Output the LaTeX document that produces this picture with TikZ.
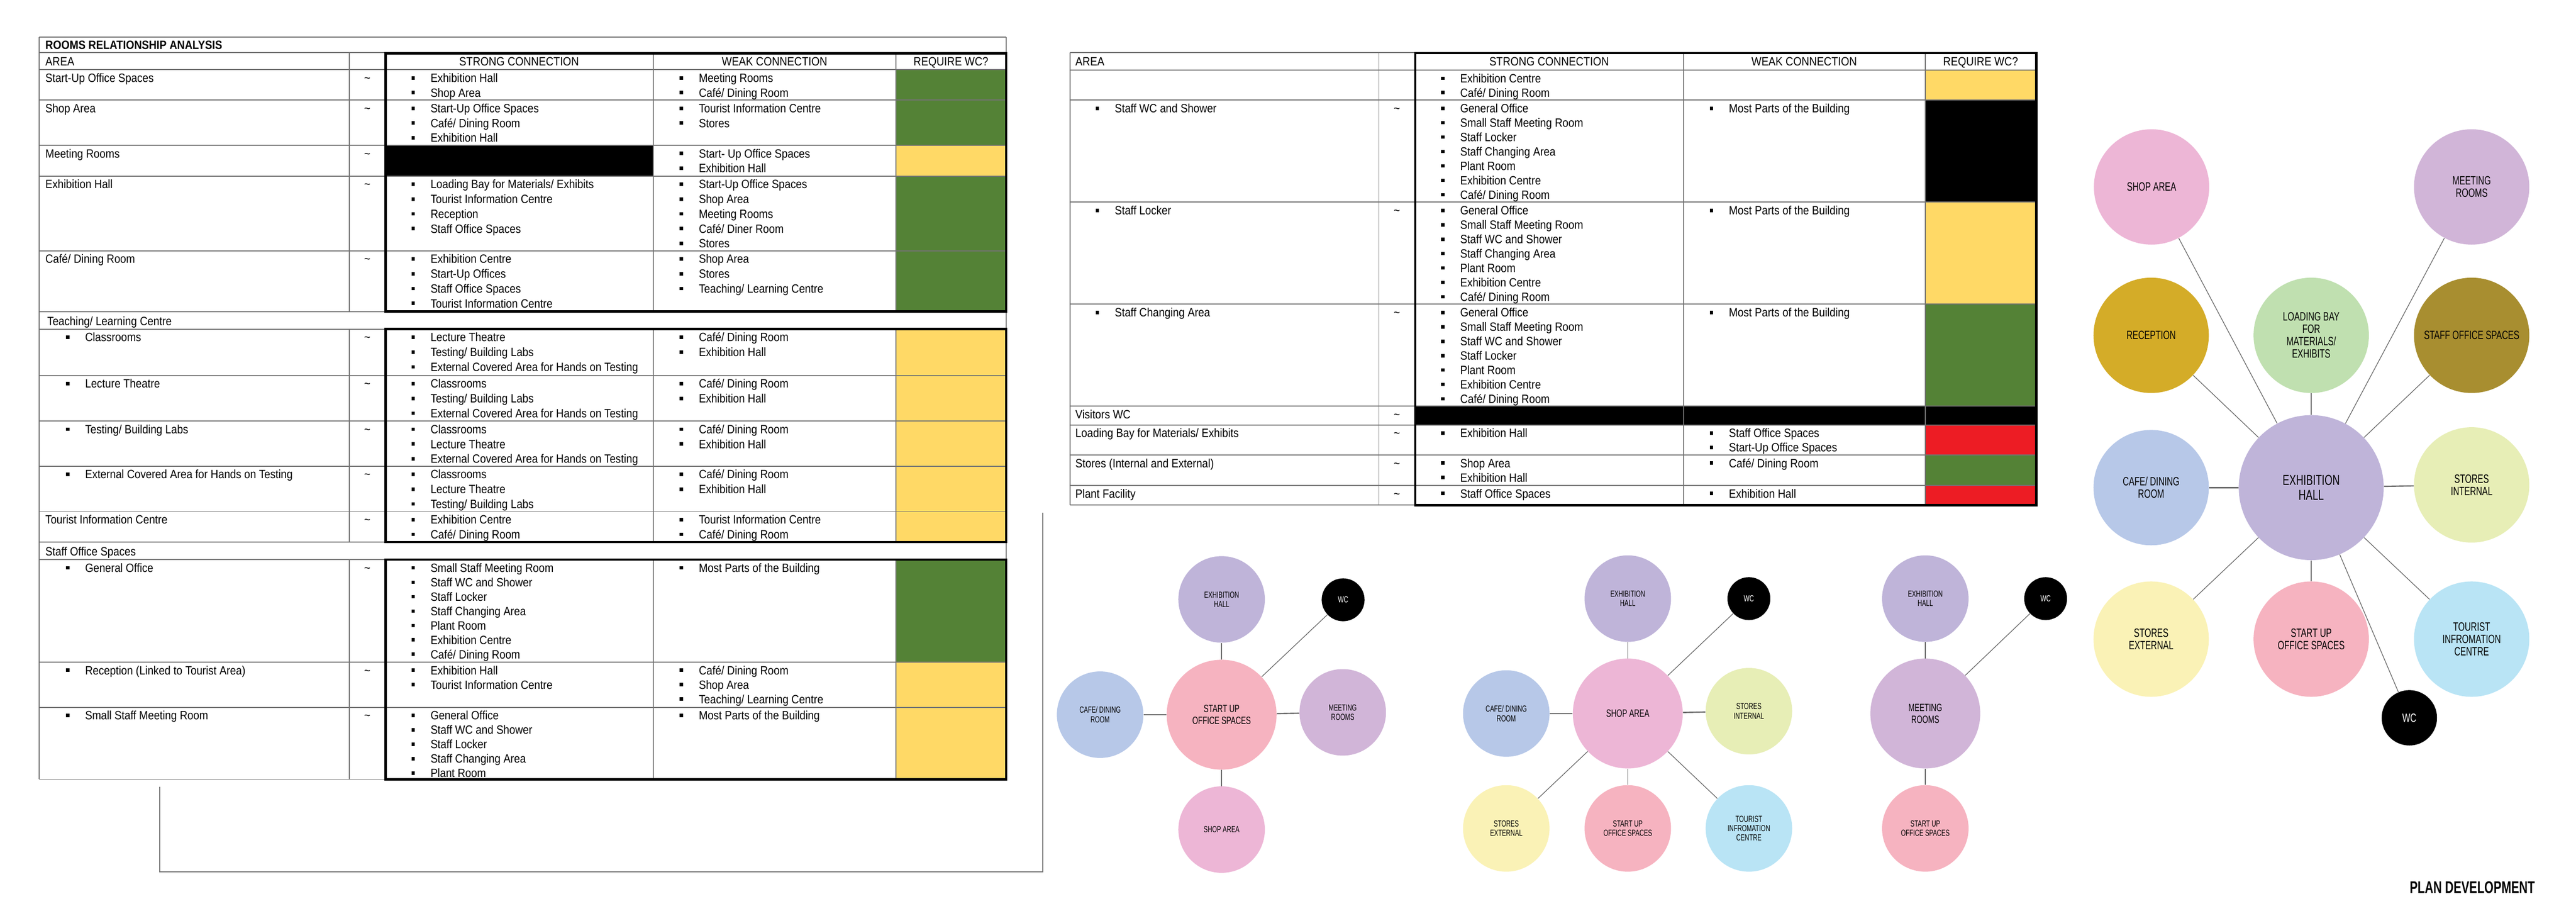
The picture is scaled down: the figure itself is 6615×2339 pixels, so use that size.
\documentclass[tikz,border=0pt]{standalone}
\usepackage{fontspec}
\setmainfont{Liberation Sans}
\newfontfamily\tabfont[FakeStretch=0.88]{Liberation Sans}
\newfontfamily\bubfont[FakeStretch=0.7]{Liberation Sans}
\usepackage{xcolor}
\usepackage{tikz}
\usetikzlibrary{shapes,positioning,calc}

\definecolor{wcgreen}{HTML}{548236}
\definecolor{wcyellow}{HTML}{FFD966}
\definecolor{wcred}{HTML}{ED1C24}
\definecolor{exhcol}{HTML}{BFB4D9}
\definecolor{meetcol}{HTML}{D1B5D8}
\definecolor{shopcol}{HTML}{EDB6D6}
\definecolor{startcol}{HTML}{F6B3C0}
\definecolor{cafecol}{HTML}{B7C8E8}
\definecolor{stintcol}{HTML}{E7EEB6}
\definecolor{stextcol}{HTML}{FAF2B6}
\definecolor{tourcol}{HTML}{B9E4F5}
\definecolor{loadcol}{HTML}{C0E0B0}
\definecolor{reccol}{HTML}{D4AC28}
\definecolor{staffcol}{HTML}{A88E30}

% bulleted list in a cell: name, bullet x, row top, items
\newcommand{\blist}[4]{%
  \foreach \itm [count=\i from 0] in {#4} {%
    \fill (#2-4.5,#3+16.5+\i*\lsp) rectangle ++(9,9);
    \node[cell] (#1\i) at (#2+44,#3+32+\i*\lsp) {\itm};
  }}

\begin{document}
\begin{tikzpicture}[x=0.01cm, y=-0.01cm]

\tikzstyle{cell}=[anchor=base west, inner sep=0, font=\tabfont\fontsize{8.8}{10.8}\selectfont]
\tikzstyle{thead}=[cell, anchor=base]
\tikzstyle{tld}=[cell, anchor=base]
\tikzstyle{tline}=[draw=black!55, line width=0.7pt]
\tikzstyle{tframe}=[draw=black, line width=1.7pt]
\tikzstyle{bub}=[circle, inner sep=0, align=center, minimum size=2.22cm, font=\bubfont\fontsize{6.4}{6.9}\selectfont]
\tikzstyle{hub}=[bub, minimum size=2.82cm, font=\bubfont\fontsize{7.7}{8.5}\selectfont]
\tikzstyle{wc}=[bub, fill=black, text=white, minimum size=1.1cm]
\tikzstyle{bigbub}=[circle, inner sep=0, align=center, minimum size=2.96cm, font=\bubfont\fontsize{8.8}{9}\selectfont]
\tikzstyle{bighub}=[bigbub, minimum size=3.72cm, font=\bubfont\fontsize{10.5}{11.1}\selectfont]
\tikzstyle{link}=[draw=black!60, line width=0.5pt]
\tikzstyle{hlink}=[link, line width=0.9pt]

\useasboundingbox (0,0) rectangle (6615,2339);

% ---------------- Table 1 ----------------
\fill[wcgreen] (2301,179) rectangle (2584,373);
\fill[wcyellow] (2301,373) rectangle (2584,452);
\fill[black] (990,373) rectangle (1677,452);
\fill[wcgreen] (2301,452) rectangle (2584,800);
\fill[wcyellow] (2301,845) rectangle (2584,1392);
\fill[wcgreen] (2301,1437) rectangle (2584,1700);
\fill[wcyellow] (2301,1700) rectangle (2584,2001);

\foreach \y in {95,135,179,257,373,452,644,800,845,964,1081,1197,1313,1392,1437,1700,1816,2001}
  \draw[tline] (101,\y) -- (2584,\y);
\draw[tline] (101,95) -- (101,2001);
\draw[tline] (2584,95) -- (2584,2001);
\foreach \x in {897,990,1677,2301} {
  \draw[tline] (\x,135) -- (\x,800);
  \draw[tline] (\x,845) -- (\x,1392);
  \draw[tline] (\x,1437) -- (\x,2001);
}
\draw[tframe] (990,137) rectangle (2584,800);
\draw[tframe] (990,845) rectangle (2584,1392);
\draw[tframe] (990,1437) rectangle (2584,2001);

% open frame below table 1
\draw[tline] (410,2020) -- (410,2239) -- (2678,2239) -- (2678,1317);

% headings
\node[cell, font=\tabfont\bfseries\fontsize{8.8}{10.8}\selectfont] (title) at (116,126) {ROOMS RELATIONSHIP ANALYSIS};
\node[cell] (areaA) at (116,169) {AREA};
\node[thead] (strongA) at (1333,169) {STRONG CONNECTION};
\node[thead] (weakA) at (1989,169) {WEAK CONNECTION};
\node[thead] (reqA) at (2442,169) {REQUIRE WC?};

\def\lsp{38}
% rows
\node[cell] (ra1) at (116,211) {Start-Up Office Spaces};
\node[tld] (ta1) at (943,211) {\textasciitilde};
\blist{sa1-}{1061}{179}{Exhibition Hall, Shop Area}
\blist{wa1-}{1750}{179}{Meeting Rooms, Café/ Dining Room}

\node[cell] (ra2) at (116,289) {Shop Area};
\node[tld] (ta2) at (943,289) {\textasciitilde};
\blist{sa2-}{1061}{257}{Start-Up Office Spaces, Café/ Dining Room, Exhibition Hall}
\blist{wa2-}{1750}{257}{Tourist Information Centre, Stores}

\node[cell] (ra3) at (116,405) {Meeting Rooms};
\node[tld] (ta3) at (943,405) {\textasciitilde};
\blist{wa3-}{1750}{373}{Start- Up Office Spaces, Exhibition Hall}

\node[cell] (ra4) at (116,484) {Exhibition Hall};
\node[tld] (ta4) at (943,484) {\textasciitilde};
\blist{sa4-}{1061}{452}{Loading Bay for Materials/ Exhibits, Tourist Information Centre, Reception, Staff Office Spaces}
\blist{wa4-}{1750}{452}{Start-Up Office Spaces, Shop Area, Meeting Rooms, Café/ Diner Room, Stores}

\node[cell] (ra5) at (116,676) {Café/ Dining Room};
\node[tld] (ta5) at (943,676) {\textasciitilde};
\blist{sa5-}{1061}{644}{Exhibition Centre, Start-Up Offices, Staff Office Spaces, Tourist Information Centre}
\blist{wa5-}{1750}{644}{Shop Area, Stores, Teaching/ Learning Centre}

\node[cell] (teach) at (121,835) {Teaching/ Learning Centre};

\blist{ra6-}{174}{845}{Classrooms}
\node[tld] (ta6) at (943,877) {\textasciitilde};
\blist{sa6-}{1061}{845}{Lecture Theatre, Testing/ Building Labs, External Covered Area for Hands on Testing}
\blist{wa6-}{1750}{845}{Café/ Dining Room, Exhibition Hall}

\blist{ra7-}{174}{964}{Lecture Theatre}
\node[tld] (ta7) at (943,996) {\textasciitilde};
\blist{sa7-}{1061}{964}{Classrooms, Testing/ Building Labs, External Covered Area for Hands on Testing}
\blist{wa7-}{1750}{964}{Café/ Dining Room, Exhibition Hall}

\blist{ra8-}{174}{1081}{Testing/ Building Labs}
\node[tld] (ta8) at (943,1113) {\textasciitilde};
\blist{sa8-}{1061}{1081}{Classrooms, Lecture Theatre, External Covered Area for Hands on Testing}
\blist{wa8-}{1750}{1081}{Café/ Dining Room, Exhibition Hall}

\blist{ra9-}{174}{1197}{External Covered Area for Hands on Testing}
\node[tld] (ta9) at (943,1229) {\textasciitilde};
\blist{sa9-}{1061}{1197}{Classrooms, Lecture Theatre, Testing/ Building Labs}
\blist{wa9-}{1750}{1197}{Café/ Dining Room, Exhibition Hall}

\node[cell] (ra10) at (116,1345) {Tourist Information Centre};
\node[tld] (ta10) at (943,1345) {\textasciitilde};
\blist{sa10-}{1061}{1313}{Exhibition Centre, Café/ Dining Room}
\blist{wa10-}{1750}{1313}{Tourist Information Centre, Café/ Dining Room}

\node[cell] (staffsec) at (116,1427) {Staff Office Spaces};

\def\lsp{37}
\blist{ra11-}{174}{1437}{General Office}
\node[tld] (ta11) at (943,1469) {\textasciitilde};
\blist{sa11-}{1061}{1437}{Small Staff Meeting Room, Staff WC and Shower, Staff Locker, Staff Changing Area, Plant Room, Exhibition Centre, Café/ Dining Room}
\blist{wa11-}{1750}{1437}{Most Parts of the Building}

\blist{ra12-}{174}{1700}{Reception (Linked to Tourist Area)}
\node[tld] (ta12) at (943,1732) {\textasciitilde};
\blist{sa12-}{1061}{1700}{Exhibition Hall, Tourist Information Centre}
\blist{wa12-}{1750}{1700}{Café/ Dining Room, Shop Area, Teaching/ Learning Centre}

\blist{ra13-}{174}{1816}{Small Staff Meeting Room}
\node[tld] (ta13) at (943,1848) {\textasciitilde};
\blist{sa13-}{1061}{1816}{General Office, Staff WC and Shower, Staff Locker, Staff Changing Area, Plant Room}
\blist{wa13-}{1750}{1816}{Most Parts of the Building}

% ---------------- Table 2 ----------------
\fill[wcyellow] (4944,180) rectangle (5229,257);
\fill[black] (4944,257) rectangle (5229,519);
\fill[wcyellow] (4944,519) rectangle (5229,781);
\fill[wcgreen] (4944,781) rectangle (5229,1043);
\fill[black] (3634,1043) rectangle (5229,1091);
\fill[wcred] (4944,1091) rectangle (5229,1168);
\fill[wcgreen] (4944,1168) rectangle (5229,1246);
\fill[wcred] (4944,1246) rectangle (5229,1297);

\foreach \y in {135,180,257,519,781,1043,1091,1168,1246,1297}
  \draw[tline] (2748,\y) -- (5229,\y);
\foreach \x in {2748,3541,3634,4323,4944,5229}
  \draw[tline] (\x,135) -- (\x,1297);
\draw[tframe] (3634,136) rectangle (5229,1297);

\node[cell] (areaB) at (2761,169) {AREA};
\node[thead] (strongB) at (3978,169) {STRONG CONNECTION};
\node[thead] (weakB) at (4633,169) {WEAK CONNECTION};
\node[thead] (reqB) at (5086,169) {REQUIRE WC?};

\blist{sb1-}{3705}{180}{Exhibition Centre, Café/ Dining Room}

\blist{rb2-}{2818}{257}{Staff WC and Shower}
\node[tld] (tb2) at (3587,289) {\textasciitilde};
\blist{sb2-}{3705}{257}{General Office, Small Staff Meeting Room, Staff Locker, Staff Changing Area, Plant Room, Exhibition Centre, Café/ Dining Room}
\blist{wb2-}{4395}{257}{Most Parts of the Building}

\blist{rb3-}{2818}{519}{Staff Locker}
\node[tld] (tb3) at (3587,551) {\textasciitilde};
\blist{sb3-}{3705}{519}{General Office, Small Staff Meeting Room, Staff WC and Shower, Staff Changing Area, Plant Room, Exhibition Centre, Café/ Dining Room}
\blist{wb3-}{4395}{519}{Most Parts of the Building}

\blist{rb4-}{2818}{781}{Staff Changing Area}
\node[tld] (tb4) at (3587,813) {\textasciitilde};
\blist{sb4-}{3705}{781}{General Office, Small Staff Meeting Room, Staff WC and Shower, Staff Locker, Plant Room, Exhibition Centre, Café/ Dining Room}
\blist{wb4-}{4395}{781}{Most Parts of the Building}

\node[cell] (rb5) at (2761,1075) {Visitors WC};
\node[tld] (tb5) at (3587,1075) {\textasciitilde};

\node[cell] (rb6) at (2761,1123) {Loading Bay for Materials/ Exhibits};
\node[tld] (tb6) at (3587,1123) {\textasciitilde};
\blist{sb6-}{3705}{1091}{Exhibition Hall}
\blist{wb6-}{4395}{1091}{Staff Office Spaces, Start-Up Office Spaces}

\node[cell] (rb7) at (2761,1200) {Stores (Internal and External)};
\node[tld] (tb7) at (3587,1200) {\textasciitilde};
\blist{sb7-}{3705}{1168}{Shop Area, Exhibition Hall}
\blist{wb7-}{4395}{1168}{Café/ Dining Room}

\node[cell] (rb8) at (2761,1278) {Plant Facility};
\node[tld] (tb8) at (3587,1278) {\textasciitilde};
\blist{sb8-}{3705}{1246}{Staff Office Spaces}
\blist{wb8-}{4395}{1246}{Exhibition Hall}

% ---------------- Bubble diagram: start up ----------------
\node[hub, fill=startcol] (suA) at (3137,1835) {START UP\\OFFICE SPACES};
\node[bub, fill=exhcol] (exA) at (3137,1539) {EXHIBITION\\HALL};
\node[wc] (wcA) at (3449,1540) {WC};
\node[bub, fill=cafecol] (cafA) at (2825,1835) {CAFE/ DINING\\ROOM};
\node[bub, fill=meetcol] (meetA) at (3448,1829) {MEETING\\ROOMS};
\node[bub, fill=shopcol] (shopA) at (3137,2130) {SHOP AREA};

\draw[link] (suA) -- (exA);
\draw[link] (suA) -- (wcA);
\draw[hlink] (suA) -- (cafA);
\draw[hlink] (suA) -- (meetA);
\draw[link] (suA) -- (shopA);

% ---------------- Bubble diagram: shop area ----------------
\node[hub, fill=shopcol] (shopB) at (4180,1832) {SHOP AREA};
\node[bub, fill=exhcol] (exB) at (4180,1537) {EXHIBITION\\HALL};
\node[wc] (wcB) at (4491,1537) {WC};
\node[bub, fill=cafecol] (cafB) at (3868,1832) {CAFE/ DINING\\ROOM};
\node[bub, fill=stintcol] (stiB) at (4491,1826) {STORES\\INTERNAL};
\node[bub, fill=stextcol] (stxB) at (3868,2127) {STORES\\EXTERNAL};
\node[bub, fill=startcol] (suB) at (4180,2127) {START UP\\OFFICE SPACES};
\node[bub, fill=tourcol] (touB) at (4491,2127) {TOURIST\\INFROMATION\\CENTRE};

\draw[link] (shopB) -- (exB);
\draw[link] (shopB) -- (wcB);
\draw[hlink] (shopB) -- (cafB);
\draw[hlink] (shopB) -- (stiB);
\draw[link] (shopB) -- (stxB);
\draw[link] (shopB) -- (suB);
\draw[link] (shopB) -- (touB);

% ---------------- Bubble diagram: meeting rooms ----------------
\node[hub, fill=meetcol] (meetC) at (4944,1832) {MEETING\\ROOMS};
\node[bub, fill=exhcol] (exC) at (4944,1537) {EXHIBITION\\HALL};
\node[wc] (wcC) at (5253,1537) {WC};
\node[bub, fill=startcol] (suC) at (4944,2127) {START UP\\OFFICE SPACES};

\draw[link] (meetC) -- (exC);
\draw[link] (meetC) -- (wcC);
\draw[link] (meetC) -- (suC);

% ---------------- Bubble diagram: exhibition hall ----------------
\node[bighub, fill=exhcol] (exD) at (5935,1252) {EXHIBITION\\HALL};
\node[bigbub, fill=shopcol] (shopD) at (5525,480) {SHOP AREA};
\node[bigbub, fill=meetcol] (meetD) at (6347,480) {MEETING\\ROOMS};
\node[bigbub, fill=reccol] (recD) at (5524,861) {RECEPTION};
\node[bigbub, fill=loadcol] (loadD) at (5935,861) {LOADING BAY\\FOR\\MATERIALS/\\EXHIBITS};
\node[bigbub, fill=staffcol] (staffD) at (6347,861) {STAFF OFFICE SPACES};
\node[bigbub, fill=cafecol] (cafD) at (5524,1252) {CAFE/ DINING\\ROOM};
\node[bigbub, fill=stintcol] (stiD) at (6347,1245) {STORES\\INTERNAL};
\node[bigbub, fill=stextcol] (stxD) at (5524,1641) {STORES\\EXTERNAL};
\node[bigbub, fill=startcol] (suD) at (5935,1641) {START UP\\OFFICE SPACES};
\node[bigbub, fill=tourcol] (touD) at (6347,1641) {TOURIST\\INFROMATION\\CENTRE};
\node[bigbub, fill=black, text=white, minimum size=1.42cm] (wcD) at (6187,1843) {WC};

\draw[link] (exD) -- (shopD);
\draw[link] (exD) -- (meetD);
\draw[link] (exD) -- (recD);
\draw[link] (exD) -- (loadD);
\draw[link] (exD) -- (staffD);
\draw[hlink] (exD) -- (cafD);
\draw[hlink] (exD) -- (stiD);
\draw[link] (exD) -- (stxD);
\draw[link] (exD) -- (suD);
\draw[link] (exD) -- (touD);
\draw[link] (exD) -- (wcD);

% Label
\node[anchor=east, inner sep=0, font=\bubfont\bfseries\fontsize{12.3}{14}\selectfont] (plan) at (6510,2278) {PLAN DEVELOPMENT};

\end{tikzpicture}
\end{document}
